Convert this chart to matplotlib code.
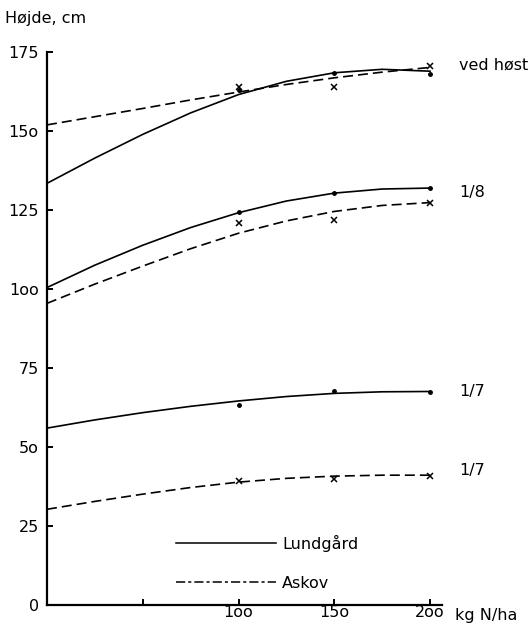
#!/usr/bin/env python3
import matplotlib
matplotlib.use("Agg")
import matplotlib.pyplot as plt
from matplotlib.lines import Line2D

# Curves (at fixed N levels)
x_curve = [0, 25, 50, 75, 100, 125, 150, 175, 200]
lund_host = [133.5, 141.5, 149, 155.8, 161.6, 165.8, 168.5, 169.6, 169]
askov_host = [152, 154.6, 157.2, 159.9, 162.4, 164.8, 166.9, 168.7, 170.2]
lund_aug = [100.5, 107.6, 113.9, 119.5, 124.2, 127.9, 130.4, 131.7, 132]
askov_aug = [95.5, 101.6, 107.3, 112.8, 117.7, 121.6, 124.6, 126.5, 127.4]
lund_jul = [56, 58.6, 60.9, 62.9, 64.6, 66, 67, 67.5, 67.6]
askov_jul = [30.3, 32.8, 35.1, 37.2, 38.9, 40.1, 40.8, 41.1, 41.1]

# Observed points
x_obs = [100, 150, 200]
lund_host_obs = [163, 168.5, 168]
askov_host_obs = [164, 164, 170.6]
lund_aug_obs = [124.5, 130.3, 132]
askov_aug_obs = [121, 122, 127.3]
lund_jul_obs = [63.3, 67.8, 67.3]
askov_jul_obs = [39.3, 40, 40.8]

# Curve labels at the right
curve_labels = ["ved høst", "1/8", "1/7", "1/7"]
label_y = [171, 130.5, 67.5, 42.7]

y_ticks = [0, 25, 50, 75, 100, 125, 150, 175]
y_ticklabels = ["0", "25", "5o", "75", "1oo", "125", "15o", "175"]
x_ticks = [50, 100, 150, 200]
x_ticklabels = ["", "1oo", "15o", "2oo"]

plt.rcParams["font.family"] = ["DejaVu Sans"]
plt.rcParams["font.size"] = 11

fig = plt.figure(figsize=(5.31, 6.31), dpi=100)
ax = fig.add_axes([0.0885, 0.0412, 0.743, 0.881])

lw = 1.2
dash = (0, (6, 3))

ax.plot(x_curve, lund_host, color="black", lw=lw)
ax.plot(x_curve, askov_host, color="black", lw=lw, linestyle=dash)
ax.plot(x_curve, lund_aug, color="black", lw=lw)
ax.plot(x_curve, askov_aug, color="black", lw=lw, linestyle=dash)
ax.plot(x_curve, lund_jul, color="black", lw=lw)
ax.plot(x_curve, askov_jul, color="black", lw=lw, linestyle=dash)

for obs in [lund_host_obs, lund_aug_obs, lund_jul_obs]:
    ax.plot(x_obs, obs, linestyle="none", marker="o", markersize=2.5,
            color="black", clip_on=False)
for obs in [askov_host_obs, askov_aug_obs, askov_jul_obs]:
    ax.plot(x_obs, obs, linestyle="none", marker="x", markersize=4,
            markeredgewidth=1.1, color="black", clip_on=False)

for lab, yy in zip(curve_labels, label_y):
    ax.text(215, yy, lab, ha="left", va="center", fontsize=11.5, clip_on=False)

ax.set_xlim(0, 206)
ax.set_ylim(0, 176)
ax.spines["top"].set_visible(False)
ax.spines["right"].set_visible(False)
ax.spines["left"].set_bounds(0, 175)
ax.spines["left"].set_linewidth(1.6)
ax.spines["bottom"].set_linewidth(1.6)

ax.set_yticks(y_ticks)
ax.set_yticklabels(y_ticklabels)
ax.set_xticks(x_ticks)
ax.set_xticklabels(x_ticklabels)
ax.tick_params(direction="in", length=4, width=1.4, labelsize=11.5)
ax.tick_params(axis="x", pad=0)
ax.tick_params(axis="y", pad=6)

ax.text(213, -1.0, "kg N/ha", ha="left", va="top", fontsize=11.5,
        clip_on=False)
fig.text(0.01, 1 - 18 / 631, "Højde, cm", ha="left", va="center", fontsize=11.5)

# Legend drawn with proxy handles
handles = [
    Line2D([], [], color="black", lw=1.1),
    Line2D([], [], color="black", lw=1.1, linestyle=(0, (6, 2, 2, 2))),
]
ax.legend(handles, ["Lundgård", "Askov"], frameon=False, loc="lower left",
          bbox_to_anchor=(0.29, 0.0), handlelength=6.3, handletextpad=0.35,
          labelspacing=1.5, fontsize=11.5)

fig.savefig("out.png", dpi=100)
